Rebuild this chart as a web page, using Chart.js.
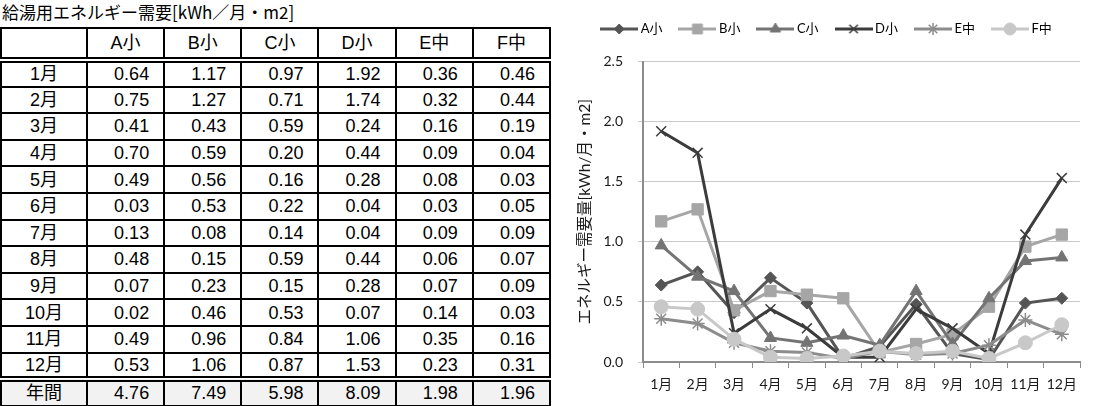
<!DOCTYPE html>
<html>
<head>
<meta charset="utf-8">
<title>給湯用エネルギー需要</title>
<script src="https://cdn.jsdelivr.net/npm/chart.js@4.4.1/dist/chart.umd.min.js"></script>
<style>
  body { margin: 0; background: #fff; width: 1095px; height: 406px; position: relative; overflow: hidden; }
  #title { position: absolute; left: 2px; top: 1px; font-family: "Noto Sans CJK JP", sans-serif; font-size: 17px; line-height: 22px; color: #000; }
  #tbl { position: absolute; left: 0; top: 27px; border-collapse: collapse; table-layout: fixed; width: 551px;
         font-family: "Liberation Sans", "Noto Sans CJK JP", sans-serif; font-size: 18px; color: #000; }
  #tbl td { border: 2px solid #000; padding: 0 14px 0 0; text-align: right; line-height: 20px; white-space: nowrap; }
  #tbl tr { height: 26.6px; }
  #tbl tr.head { height: 32px; }
  #tbl td.m { text-align: center; padding: 0; }
  #tbl tr.head td { text-align: center; padding: 0; border-bottom: 6px double #000; }
  #tbl tr.total td { background: #f2f2f2; border-top: 6px double #000; }
  #chartBox { position: absolute; left: 555px; top: 0; width: 540px; height: 406px; }
</style>
</head>
<body>
<div id="title">給湯用エネルギー需要[kWh／月・m2]</div>
<table id="tbl">
  <colgroup><col style="width:86px"><col><col><col><col><col><col></colgroup>
  <tbody id="tbody"></tbody>
</table>
<div id="chartBox"><canvas id="chart"></canvas></div>
<script>
var months = ['1月', '2月', '3月', '4月', '5月', '6月', '7月', '8月', '9月', '10月', '11月', '12月'];
var seriesNames = ['A小', 'B小', 'C小', 'D小', 'E中', 'F中'];
var aSmall = [0.64, 0.75, 0.41, 0.70, 0.49, 0.03, 0.13, 0.48, 0.07, 0.02, 0.49, 0.53];
var bSmall = [1.17, 1.27, 0.43, 0.59, 0.56, 0.53, 0.08, 0.15, 0.23, 0.46, 0.96, 1.06];
var cSmall = [0.97, 0.71, 0.59, 0.20, 0.16, 0.22, 0.14, 0.59, 0.15, 0.53, 0.84, 0.87];
var dSmall = [1.92, 1.74, 0.24, 0.44, 0.28, 0.04, 0.04, 0.44, 0.28, 0.07, 1.06, 1.53];
var eMid = [0.36, 0.32, 0.16, 0.09, 0.08, 0.03, 0.09, 0.06, 0.07, 0.14, 0.35, 0.23];
var fMid = [0.46, 0.44, 0.19, 0.04, 0.03, 0.05, 0.09, 0.07, 0.09, 0.03, 0.16, 0.31];
var annualLabel = '年間';
var annual = [4.76, 7.49, 5.98, 8.09, 1.98, 1.96];
var yAxisTitle = 'エネルギー需要量[kWh/月・m2]';

var allSeries = [aSmall, bSmall, cSmall, dSmall, eMid, fMid];

// looks
var colors = ['#555555', '#a6a6a6', '#747474', '#3c3c3c', '#8c8c8c', '#c8c8c8'];
var markers = ['rectRot', 'rect', 'triangle', 'crossRot', 'star', 'circle'];
var markerRadius = [6, 8, 7, 7, 7, 7];
var markerBorder = [1, 1, 1, 1.5, 1.5, 1];

// table
var tbody = document.getElementById('tbody');
function addRow(cls, first, cells) {
  var tr = document.createElement('tr');
  if (cls) tr.className = cls;
  var td = document.createElement('td');
  td.className = 'm';
  td.textContent = first;
  tr.appendChild(td);
  cells.forEach(function (c) {
    var d = document.createElement('td');
    d.textContent = c;
    tr.appendChild(d);
  });
  tbody.appendChild(tr);
}
addRow('head', '', seriesNames);
months.forEach(function (m, i) {
  addRow('', m, allSeries.map(function (s) { return s[i].toFixed(2); }));
});
addRow('total', annualLabel, annual.map(function (v) { return v.toFixed(2); }));

// legend icons: line with marker in the middle
function legendIcon(i) {
  var c = document.createElement('canvas');
  c.width = 38; c.height = 16;
  var g = c.getContext('2d');
  g.strokeStyle = colors[i];
  g.fillStyle = colors[i];
  g.lineWidth = 3;
  g.beginPath(); g.moveTo(0, 8); g.lineTo(38, 8); g.stroke();
  g.lineWidth = markerBorder[i];
  Chart.helpers.drawPoint(g, { pointStyle: markers[i], radius: markerRadius[i] - 1, borderWidth: markerBorder[i], rotation: 0 }, 19, 8);
  return c;
}
var icons = seriesNames.map(function (n, i) { return legendIcon(i); });

var fontFam = 'Lato, "Noto Sans CJK JP", sans-serif';

var legendSpace = {
  id: 'legendSpace',
  beforeInit: function (chart) {
    var fit = chart.legend.fit;
    chart.legend.fit = function () {
      fit.bind(chart.legend)();
      this.height += 16;
    };
  }
};

new Chart(document.getElementById('chart'), {
  type: 'line',
  data: {
    labels: months,
    datasets: allSeries.map(function (s, i) {
      return {
        label: seriesNames[i],
        data: s,
        borderColor: colors[i],
        backgroundColor: colors[i],
        borderWidth: 3,
        pointStyle: markers[i],
        pointRadius: markerRadius[i],
        pointBorderWidth: markerBorder[i],
        pointBorderColor: colors[i],
        pointBackgroundColor: colors[i],
        lineTension: 0,
        order: allSeries.length - i
      };
    })
  },
  options: {
    responsive: true,
    maintainAspectRatio: false,
    animation: false,
    layout: { padding: { top: 2.5, right: 15, left: 21, bottom: 0 } },
    plugins: {
      tooltip: { enabled: false },
      legend: {
        position: 'top',
        labels: {
          usePointStyle: true,
          pointStyleWidth: 30,
          padding: 20,
          color: '#262626',
          font: { size: 13, family: fontFam },
          generateLabels: function (chart) {
            return chart.data.datasets.map(function (ds, i) {
              return { text: ds.label, pointStyle: icons[i], datasetIndex: i, fillStyle: 'transparent', strokeStyle: 'transparent', lineWidth: 0, hidden: false };
            });
          }
        }
      }
    },
    scales: {
      x: {
        offset: true,
        grid: { offset: true, drawOnChartArea: false, drawTicks: true, tickLength: 6, color: '#8c8c8c', lineWidth: 1 },
        border: { color: '#8c8c8c', width: 2 },
        ticks: { color: '#1a1a1a', font: { size: 14, family: fontFam }, padding: 8, autoSkip: false, maxRotation: 0 },
        afterFit: function (scale) { scale.height = 44; }
      },
      y: {
        min: 0,
        max: 2.5,
        grid: { color: '#c8c8c8', lineWidth: 1, tickLength: 5 },
        border: { color: '#8c8c8c', width: 2 },
        ticks: { stepSize: 0.5, color: '#1a1a1a', font: { size: 14, family: fontFam }, padding: 15,
                 callback: function (v) { return v.toFixed(1); } },
        title: { display: true, text: yAxisTitle, color: '#1a1a1a', font: { size: 15.5, family: fontFam }, padding: { top: 0, bottom: 0 } },
        afterFit: function (scale) { scale.width = 67; }
      }
    }
  },
  plugins: [legendSpace]
});
</script>
</body>
</html>
